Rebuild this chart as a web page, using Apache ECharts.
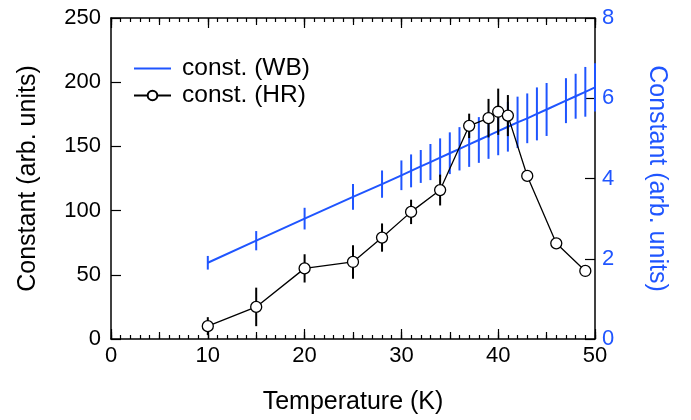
<!DOCTYPE html>
<html>
<head>
<meta charset="utf-8">
<script src="https://cdn.jsdelivr.net/npm/echarts@6/dist/echarts.min.js"></script>
<style>
html,body{margin:0;padding:0;background:#fff;}
#chart{width:691px;height:420px;}
</style>
</head>
<body>
<div id="chart"></div>
<script>
// WB series (right axis)
var wbT = [10,15,20,25,28,30,31,32,33,34,35,36,37,38,39,40,41,42,43,44,45,47,48,49,50];
var wbVal = [1.90,2.45,3.00,3.54,3.86,4.08,4.19,4.30,4.41,4.52,4.63,4.74,4.85,4.96,5.07,5.18,5.29,5.40,5.50,5.61,5.72,5.94,6.05,6.16,6.27];
var wbErr = [0.17,0.24,0.27,0.32,0.34,0.37,0.41,0.41,0.45,0.48,0.52,0.54,0.56,0.57,0.58,0.60,0.62,0.64,0.62,0.66,0.66,0.56,0.56,0.62,0.60];
// HR series (left axis)
var hrT = [10,15,20,25,28,31,34,37,39,40,41,43,46,49];
var hrVal = [10,25,55,60,79,99,116,166,172,177,174,127,74.5,53];
var hrErr = [7,15,11,13,11,9.5,12,9.5,15,18,16,3,3,3];
// axis ticks
var xTicks = [0,10,20,30,40,50];
var yLeftTicks = [0,50,100,150,200,250];
var yRightTicks = [0,2,4,6,8];

var BLUE = '#1f55ff';
var FONT = '"Liberation Sans", Arial, Helvetica, sans-serif';

var wbLine = wbT.map(function(t,i){return [t, wbVal[i]];});
var wbBars = wbT.map(function(t,i){return [t, wbVal[i]-wbErr[i], wbVal[i]+wbErr[i]];});
var hrLine = hrT.map(function(t,i){return [t, hrVal[i]];});
var hrBars = hrT.map(function(t,i){return [t, hrVal[i]-hrErr[i], hrVal[i]+hrErr[i]];});

function errRender(color){
  return function(params, api){
    var x = api.value(0), lo = api.value(1), hi = api.value(2);
    var p1 = api.coord([x, lo]), p2 = api.coord([x, hi]);
    return {type:'line', shape:{x1:p1[0], y1:p1[1], x2:p2[0], y2:p2[1]},
            style:{stroke:color, lineWidth:2}};
  };
}

var xMin = xTicks[0], xMax = xTicks[xTicks.length-1];
function xAx(pos, interval, len, withLabels, withLine){
  return {
    type:'value', position:pos, min:xMin, max:xMax, interval:interval,
    axisLine:{show:withLine, onZero:false, lineStyle:{color:'#000', width:1.5}},
    axisTick:{show:true, inside:true, length:len, lineStyle:{color:'#000', width:1.2}},
    splitLine:{show:false},
    axisLabel:{show:withLabels, margin:6, color:'#000', fontSize:22, fontFamily:FONT,
      formatter:function(v){return xTicks.indexOf(v)>=0 ? String(v) : '';}},
    name: withLabels ? 'Temperature (K)' : '',
    nameLocation:'middle', nameGap:51,
    nameTextStyle:{color:'#000', fontSize:25, fontFamily:FONT}
  };
}

var chart = echarts.init(document.getElementById('chart'), null, {renderer:'canvas'});
chart.setOption({
  animation:false,
  backgroundColor:'#fff',
  grid:{left:111, right:96, top:18, bottom:80, containLabel:false},
  legend:{
    orient:'vertical', left:133, top:56, padding:0, itemWidth:37, itemHeight:12, itemGap:2,
    textStyle:{color:'#000', fontSize:24.5, fontFamily:FONT, padding:[0,0,0,6]},
    data:['const. (WB)','const. (HR)']
  },
  xAxis:[
    xAx('bottom', 10, 10, true, true),
    xAx('bottom', 5, 7, false, false),
    xAx('bottom', 1, 4, false, false),
    xAx('top', 10, 10, false, true),
    xAx('top', 5, 7, false, false),
    xAx('top', 1, 4, false, false)
  ],
  yAxis:[
    {type:'value', position:'left', min:yLeftTicks[0], max:yLeftTicks[yLeftTicks.length-1], interval:50,
     axisLine:{show:true, onZero:false, lineStyle:{color:'#000', width:1.5}},
     axisTick:{show:true, inside:true, length:10, lineStyle:{color:'#000', width:1.2}},
     splitLine:{show:false},
     axisLabel:{margin:10, color:'#000', fontSize:22, fontFamily:FONT},
     name:'Constant (arb. units)', nameLocation:'middle', nameGap:70,
     nameTextStyle:{color:'#000', fontSize:25, fontFamily:FONT}},
    {type:'value', position:'right', min:yRightTicks[0], max:yRightTicks[yRightTicks.length-1], interval:2,
     axisLine:{show:true, onZero:false, lineStyle:{color:'#000', width:1.5}},
     axisTick:{show:true, inside:true, length:10, lineStyle:{color:'#000', width:1.2}},
     splitLine:{show:false},
     axisLabel:{margin:7, color:BLUE, fontSize:22, fontFamily:FONT},
     name:'Constant (arb. units)', nameLocation:'middle', nameGap:49, nameRotate:-90,
     nameTextStyle:{color:BLUE, fontSize:25, fontFamily:FONT}}
  ],
  series:[
    {name:'const. (WB)', type:'line', yAxisIndex:1, data:wbLine, symbol:'none',
     lineStyle:{color:BLUE, width:2}, itemStyle:{color:'rgba(0,0,0,0)'}, z:2},
    {name:'wbErr', type:'custom', yAxisIndex:1, data:wbBars, encode:{x:0, y:[1,2]},
     renderItem:errRender(BLUE), z:2},
    {name:'hrErr', type:'custom', yAxisIndex:0, data:hrBars, encode:{x:0, y:[1,2]},
     renderItem:errRender('#000'), z:3},
    {name:'const. (HR)', type:'line', yAxisIndex:0, data:hrLine, symbol:'circle', symbolSize:11,
     showSymbol:true,
     lineStyle:{color:'#000', width:1.3},
     itemStyle:{color:'#fff', borderColor:'#000', borderWidth:1.3}, z:4}
  ]
});
</script>
</body>
</html>
